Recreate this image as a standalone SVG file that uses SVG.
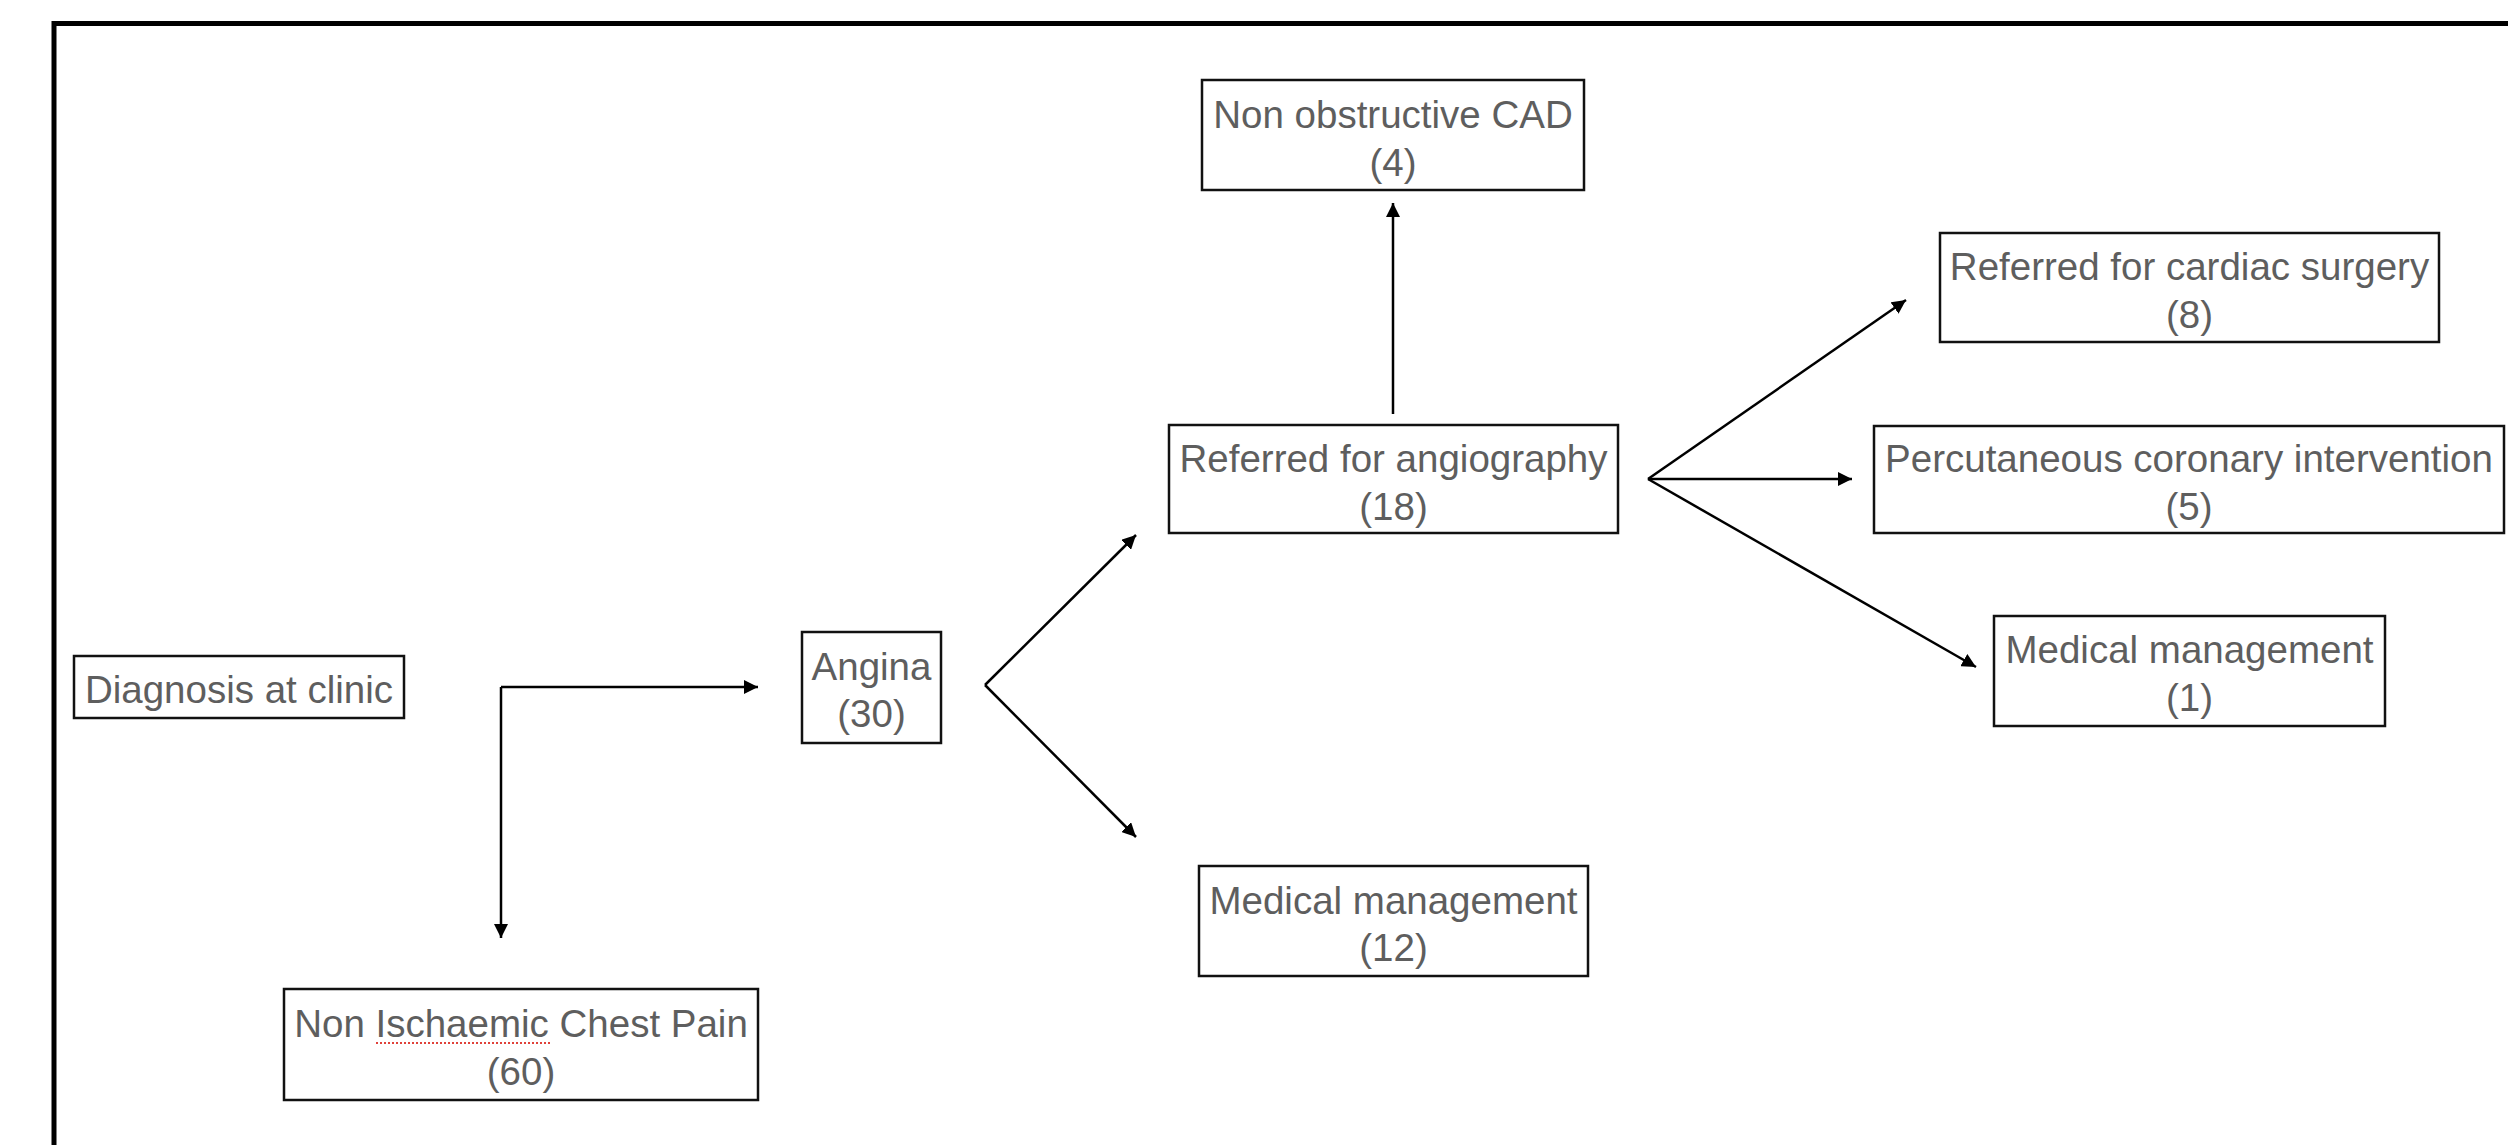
<svg xmlns="http://www.w3.org/2000/svg" width="2508" height="1145" viewBox="0 0 2508 1145">
  <style>
    .box { fill: #ffffff; stroke: #111111; stroke-width: 2.5; }
    .lbl { font-family: "Liberation Sans", Arial, Helvetica, sans-serif; font-size: 38.5px; fill: #5e5e5e; text-anchor: middle; }
    .conn { stroke: #000000; stroke-width: 2.5; fill: none; marker-end: url(#arrow); }
    .frame { fill: none; stroke: #000000; stroke-width: 5; }
    .squiggle { stroke: #e0413a; stroke-width: 2; stroke-dasharray: 2 2; fill: none; }
  </style>
  <defs>
    <marker id="arrow" markerUnits="userSpaceOnUse" markerWidth="14" markerHeight="14" viewBox="0 0 14 14" refX="14" refY="7" orient="auto">
      <path d="M0,0 L14,7 L0,14 z" fill="#000000"/>
    </marker>
  </defs>
  <rect x="0" y="0" width="2508" height="1145" fill="#ffffff"/>
  <rect class="frame" x="54" y="23.5" width="2600" height="1300"/>

  <g id="connectors">
    <line class="conn" x1="501" y1="687" x2="758" y2="687"/>
    <line class="conn" x1="501" y1="687" x2="501" y2="938"/>
    <line class="conn" x1="985" y1="685" x2="1136" y2="535"/>
    <line class="conn" x1="985" y1="685" x2="1136" y2="837"/>
    <line class="conn" x1="1393" y1="414" x2="1393" y2="203"/>
    <line class="conn" x1="1648" y1="479" x2="1906" y2="300"/>
    <line class="conn" x1="1648" y1="479" x2="1852" y2="479"/>
    <line class="conn" x1="1648" y1="479" x2="1976" y2="667"/>
  </g>

  <g id="node-diagnosis">
    <rect class="box" x="74" y="656" width="330" height="62"/>
    <text class="lbl" x="239" y="703">Diagnosis at clinic</text>
  </g>
  <g id="node-angina">
    <rect class="box" x="802" y="632" width="139" height="111"/>
    <text class="lbl" x="871.5" y="680">Angina</text>
    <text class="lbl" x="871.5" y="727">(30)</text>
  </g>
  <g id="node-nicp">
    <rect class="box" x="284" y="989" width="474" height="111"/>
    <text class="lbl" x="521" y="1037">Non Ischaemic Chest Pain</text>
    <text class="lbl" x="521" y="1085">(60)</text>
    <line class="squiggle" x1="376" y1="1043" x2="551" y2="1043"/>
  </g>
  <g id="node-angiography">
    <rect class="box" x="1169" y="425" width="449" height="108"/>
    <text class="lbl" x="1393.5" y="472">Referred for angiography</text>
    <text class="lbl" x="1393.5" y="520">(18)</text>
  </g>
  <g id="node-nonobstructive">
    <rect class="box" x="1202" y="80" width="382" height="110"/>
    <text class="lbl" x="1393" y="128">Non obstructive CAD</text>
    <text class="lbl" x="1393" y="176">(4)</text>
  </g>
  <g id="node-medical12">
    <rect class="box" x="1199" y="866" width="389" height="110"/>
    <text class="lbl" x="1393.5" y="914">Medical management</text>
    <text class="lbl" x="1393.5" y="961">(12)</text>
  </g>
  <g id="node-surgery">
    <rect class="box" x="1940" y="233" width="499" height="109"/>
    <text class="lbl" x="2189.5" y="280">Referred for cardiac surgery</text>
    <text class="lbl" x="2189.5" y="328">(8)</text>
  </g>
  <g id="node-pci">
    <rect class="box" x="1874" y="426" width="630" height="107"/>
    <text class="lbl" x="2189" y="472">Percutaneous coronary intervention</text>
    <text class="lbl" x="2189" y="520">(5)</text>
  </g>
  <g id="node-medical1">
    <rect class="box" x="1994" y="616" width="391" height="110"/>
    <text class="lbl" x="2189.5" y="663">Medical management</text>
    <text class="lbl" x="2189.5" y="711">(1)</text>
  </g>
</svg>
